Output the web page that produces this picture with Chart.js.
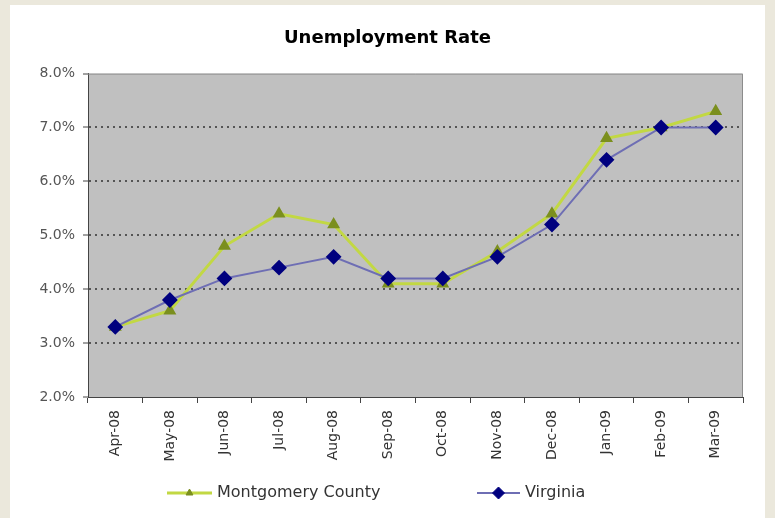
<!DOCTYPE html>
<html lang="en">
<head>
    <meta charset="UTF-8">
    <title>Unemployment Rate</title>
    <script src="https://cdn.jsdelivr.net/npm/chart.js"></script>
    <style>
        body { margin: 0; background: #ebe8dc; }
        #wrap { position: absolute; left: 10px; top: 5px; width: 755px; height: 513px; background: #fff; }
    </style>
</head>
<body>
    <div id="wrap"><canvas id="myChart"></canvas></div>
    <script>
        // data
        const months = ['Apr-08', 'May-08', 'Jun-08', 'Jul-08', 'Aug-08', 'Sep-08',
                        'Oct-08', 'Nov-08', 'Dec-08', 'Jan-09', 'Feb-09', 'Mar-09'];
        const montgomery = [3.3, 3.6, 4.8, 5.4, 5.2, 4.1, 4.1, 4.7, 5.4, 6.8, 7.0, 7.3];
        const virginia = [3.3, 3.8, 4.2, 4.4, 4.6, 4.2, 4.2, 4.6, 5.2, 6.4, 7.0, 7.0];
        const yTicks = [2, 3, 4, 5, 6, 7, 8];

        const FONT = "'DejaVu Sans', sans-serif";

        // grey plot area with light frame on top/right
        const plotArea = {
            id: 'plotArea',
            beforeDatasetsDraw(chart) {
                const { ctx, chartArea: a } = chart;
                ctx.save();
                ctx.strokeStyle = '#8c8c8c';
                ctx.lineWidth = 1;
                ctx.beginPath();
                ctx.moveTo(a.left, a.top + 0.5);
                ctx.lineTo(a.right - 0.5, a.top + 0.5);
                ctx.lineTo(a.right - 0.5, a.bottom);
                ctx.stroke();
                ctx.restore();
            },
            beforeDraw(chart) {
                const { ctx, chartArea: a } = chart;
                ctx.save();
                ctx.fillStyle = '#c0c0c0';
                ctx.fillRect(a.left, a.top, a.right - a.left, a.bottom - a.top);
                ctx.restore();
            }
        };

        // excel style legend: line + marker + label
        const lineLegend = {
            id: 'lineLegend',
            afterDraw(chart) {
                const ctx = chart.ctx;
                const spots = [{ x: 157, w: 45 }, { x: 467, w: 43 }];
                const y = 488;
                chart.data.datasets.forEach((ds, i) => {
                    const s = spots[i];
                    ctx.save();
                    ctx.strokeStyle = ds.borderColor;
                    ctx.lineWidth = ds.borderWidth;
                    ctx.beginPath();
                    ctx.moveTo(s.x, y);
                    ctx.lineTo(s.x + s.w, y);
                    ctx.stroke();
                    ctx.fillStyle = ds.pointBackgroundColor;
                    ctx.strokeStyle = ds.pointBorderColor;
                    ctx.lineWidth = 1;
                    Chart.helpers.drawPoint(ctx, { pointStyle: ds.pointStyle, radius: ds.pointRadius - 0.5, rotation: 0, borderWidth: 1 }, s.x + s.w / 2, y);
                    ctx.fillStyle = '#333';
                    ctx.font = '16px ' + FONT;
                    ctx.textBaseline = 'middle';
                    ctx.fillText(ds.label, s.x + s.w + 5, y);
                    ctx.restore();
                });
            }
        };

        const ctx = document.getElementById('myChart').getContext('2d');
        new Chart(ctx, {
            type: 'line',
            data: {
                labels: months,
                datasets: [{
                    label: 'Montgomery County',
                    data: montgomery,
                    borderColor: '#c2d843',
                    borderWidth: 3,
                    pointStyle: 'triangle',
                    pointRadius: 4.5,
                    pointBackgroundColor: '#7b8f1e',
                    pointBorderColor: '#7b8f1e',
                    tension: 0,
                    order: 1
                }, {
                    label: 'Virginia',
                    data: virginia,
                    borderColor: '#6e6eb4',
                    borderWidth: 2,
                    pointStyle: 'rectRot',
                    pointRadius: 6.5,
                    pointBackgroundColor: '#00007f',
                    pointBorderColor: '#00007f',
                    tension: 0,
                    order: 0
                }]
            },
            options: {
                responsive: true,
                maintainAspectRatio: false,
                animation: false,
                layout: { padding: { left: 22, right: 22 } },
                plugins: {
                    legend: { display: false },
                    tooltip: { enabled: false },
                    title: {
                        display: true,
                        text: 'Unemployment Rate',
                        color: '#000',
                        font: { family: FONT, size: 18, weight: 'bold' },
                        padding: { top: 23, bottom: 24 }
                    }
                },
                scales: {
                    y: {
                        min: 2,
                        max: 8,
                        afterFit(scale) { scale.width = 56; },
                        afterBuildTicks(scale) { scale.ticks = yTicks.map(v => ({ value: v })); },
                        ticks: {
                            padding: 8,
                            color: '#555',
                            font: { family: FONT, size: 14 },
                            callback: v => v.toFixed(1) + '%'
                        },
                        grid: {
                            color: c => (c.tick && (c.tick.value === 2 || c.tick.value === 8)) ? 'rgba(0,0,0,0)' : '#555',
                            lineWidth: 2,
                            tickLength: 5,
                            tickColor: '#444',
                            tickWidth: 1
                        },
                        border: { color: '#444', width: 1, dash: [2, 4] }
                    },
                    x: {
                        offset: true,
                        afterFit(scale) { scale.height = 121; },
                        ticks: {
                            minRotation: 90,
                            maxRotation: 90,
                            padding: 7,
                            color: '#333',
                            font: { family: FONT, size: 14 }
                        },
                        grid: {
                            offset: true,
                            drawOnChartArea: false,
                            tickLength: 6,
                            tickColor: '#444'
                        },
                        border: { color: '#444', width: 1 }
                    }
                }
            },
            plugins: [plotArea, lineLegend]
        });
    </script>
</body>
</html>
